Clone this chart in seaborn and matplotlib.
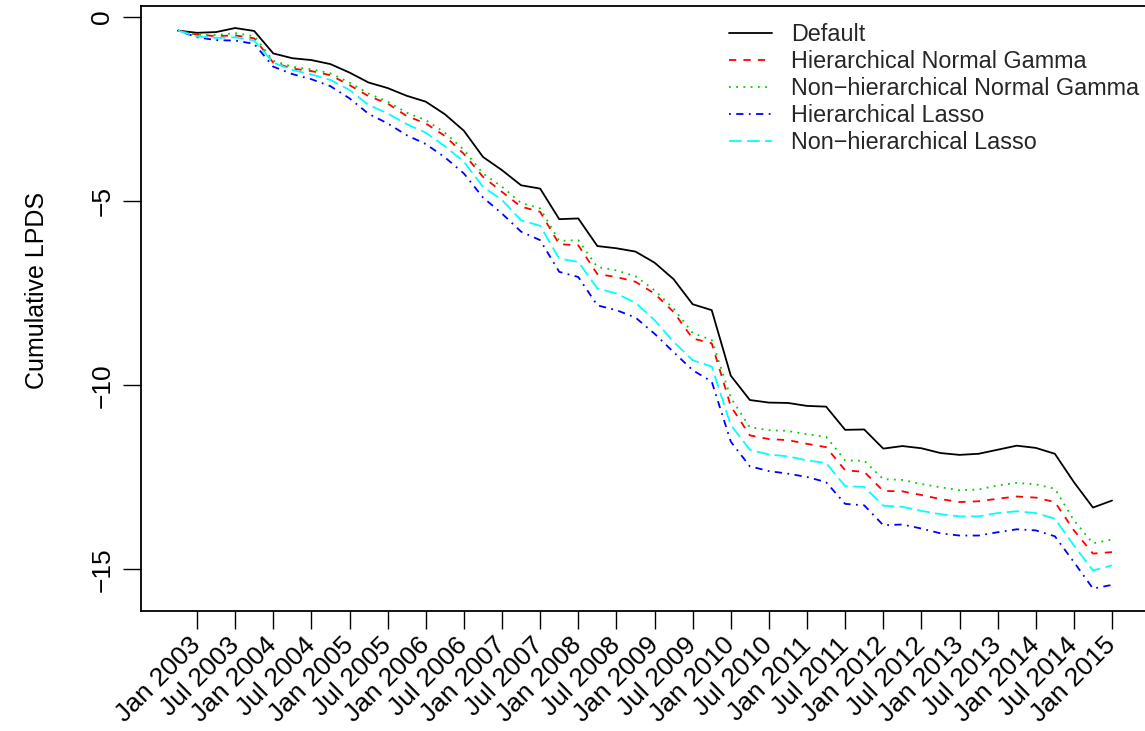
import numpy as np
import pandas as pd
import matplotlib
matplotlib.use("Agg")
import matplotlib.pyplot as plt
import seaborn as sns

# ---- data ----
dates = pd.date_range("2002-10-01", periods=50, freq="QS")

default = [-0.37, -0.43, -0.41, -0.30, -0.38, -0.99, -1.12, -1.17, -1.28, -1.51,
           -1.78, -1.93, -2.14, -2.30, -2.64, -3.09, -3.80, -4.16, -4.57, -4.66,
           -5.49, -5.47, -6.22, -6.28, -6.37, -6.67, -7.12, -7.80, -7.96, -9.74,
           -10.40, -10.47, -10.48, -10.56, -10.58, -11.21, -11.20, -11.72, -11.65, -11.71,
           -11.84, -11.89, -11.86, -11.75, -11.64, -11.70, -11.86, -12.63, -13.32, -13.13]

hier_ng = [-0.37, -0.48, -0.52, -0.50, -0.58, -1.24, -1.40, -1.47, -1.58, -1.85,
           -2.15, -2.35, -2.69, -2.89, -3.23, -3.72, -4.34, -4.75, -5.15, -5.29,
           -6.17, -6.20, -6.98, -7.06, -7.19, -7.51, -8.01, -8.73, -8.86, -10.57,
           -11.36, -11.46, -11.49, -11.59, -11.68, -12.31, -12.35, -12.87, -12.88, -12.98,
           -13.09, -13.17, -13.15, -13.08, -13.02, -13.05, -13.17, -13.94, -14.57, -14.53]

nonhier_ng = [-0.37, -0.48, -0.49, -0.44, -0.52, -1.19, -1.35, -1.42, -1.53, -1.78,
              -2.08, -2.30, -2.60, -2.80, -3.14, -3.61, -4.25, -4.61, -5.05, -5.20,
              -6.08, -6.06, -6.79, -6.88, -7.04, -7.42, -7.92, -8.58, -8.77, -10.34,
              -11.14, -11.22, -11.24, -11.33, -11.40, -12.04, -12.05, -12.55, -12.57, -12.68,
              -12.77, -12.85, -12.83, -12.72, -12.65, -12.69, -12.81, -13.67, -14.29, -14.19]

hier_lasso = [-0.37, -0.55, -0.63, -0.64, -0.73, -1.35, -1.55, -1.69, -1.88, -2.21,
              -2.63, -2.89, -3.21, -3.45, -3.81, -4.25, -4.90, -5.34, -5.83, -6.06,
              -6.92, -7.06, -7.83, -7.96, -8.16, -8.60, -9.10, -9.59, -9.90, -11.53,
              -12.20, -12.33, -12.40, -12.49, -12.63, -13.22, -13.26, -13.80, -13.78, -13.89,
              -14.02, -14.08, -14.08, -13.99, -13.91, -13.94, -14.10, -14.80, -15.52, -15.42]

nonhier_lasso = [-0.37, -0.53, -0.57, -0.55, -0.64, -1.24, -1.44, -1.56, -1.71, -1.98,
                 -2.39, -2.62, -2.91, -3.14, -3.51, -3.93, -4.61, -4.97, -5.52, -5.67,
                 -6.56, -6.65, -7.37, -7.51, -7.76, -8.23, -8.82, -9.32, -9.49, -11.08,
                 -11.75, -11.88, -11.93, -12.04, -12.11, -12.74, -12.76, -13.27, -13.30, -13.41,
                 -13.50, -13.56, -13.56, -13.47, -13.42, -13.47, -13.62, -14.35, -15.03, -14.89]

series_names = ["Default", "Hierarchical Normal Gamma", "Non\u2212hierarchical Normal Gamma",
                "Hierarchical Lasso", "Non\u2212hierarchical Lasso"]
series_values = [default, hier_ng, nonhier_ng, hier_lasso, nonhier_lasso]
series_colors = ["#000000", "#FF0000", "#00CD00", "#0000FF", "#00FFFF"]
series_dashes = ["", (4, 4), (1, 3), (1, 3, 4, 3), (7, 3)]

# ---- long-form frame ----
t = np.arange(len(dates))
df = pd.concat([pd.DataFrame({"t": t, "value": v, "model": n})
                for n, v in zip(series_names, series_values)], ignore_index=True)

sns.set_theme(style="white")
plt.rcParams['font.family'] = ['Liberation Sans', 'DejaVu Sans']
plt.rcParams['axes.unicode_minus'] = True

W, H = 1145, 731
fig = plt.figure(figsize=(W / 100, H / 100), dpi=100)
ax_left, ax_right, ax_top, ax_bottom = 140.6, 1149.4, 5.6, 611.0
ax = fig.add_axes([ax_left / W, 1 - ax_bottom / H, (ax_right - ax_left) / W, (ax_bottom - ax_top) / H])

sns.lineplot(data=df, x="t", y="value", hue="model", style="model",
             hue_order=series_names, style_order=series_names,
             palette=dict(zip(series_names, series_colors)),
             dashes=dict(zip(series_names, series_dashes)),
             linewidth=1.3, estimator=None, sort=False, ax=ax)

# R-like 4% padding
allv = np.concatenate([np.asarray(v) for v in series_values])
ymin, ymax = allv.min(), allv.max()
yr = ymax - ymin
ax.set_ylim(ymin - 0.04 * yr, ymax + 0.04 * yr)
xr = t.max() - t.min()
ax.set_xlim(t.min() - 0.04 * xr, t.max() + 0.04 * xr)

# ticks
tick_idx = [i for i, d in enumerate(dates) if d.month in (1, 7)]
ax.set_xticks(tick_idx)
ax.set_xticklabels([dates[i].strftime("%b %Y") for i in tick_idx], fontsize=19)
for lab in ax.get_xticklabels():
    lab.set_rotation(45)
    lab.set_ha("right")
    lab.set_va("center")
    lab.set_rotation_mode("anchor")

ax.set_yticks([0, -5, -10, -15])
ax.set_yticklabels(["0", "\u22125", "\u221210", "\u221215"], fontsize=19)
for lab in ax.get_yticklabels():
    lab.set_rotation(90)
    lab.set_va("center")

ax.tick_params(axis="both", direction="out", length=13, width=1.0, color="black",
               bottom=True, left=True, labelcolor="black")
ax.tick_params(axis="x", pad=9)
ax.tick_params(axis="y", pad=6)

for s in ax.spines.values():
    s.set_color("black")
    s.set_linewidth(1.3)

ax.set_xlabel("")
ax.set_ylabel("Cumulative LPDS", fontsize=18, color="black")
ax.yaxis.set_label_coords((49 - ax_left) / (ax_right - ax_left), (ax_bottom - 290) / (ax_bottom - ax_top))

handles, labels = ax.get_legend_handles_labels()
for h in handles:
    h.set_linewidth(1.3)
ax.legend(handles, labels, loc="upper left",
          bbox_to_anchor=(729 / W, 1 - 23 / H), bbox_transform=fig.transFigure,
          frameon=False, fontsize=16.8, handlelength=1.85, handletextpad=0.8,
          labelspacing=0.17, borderpad=0, borderaxespad=0)

fig.savefig("out.png", dpi=100)
